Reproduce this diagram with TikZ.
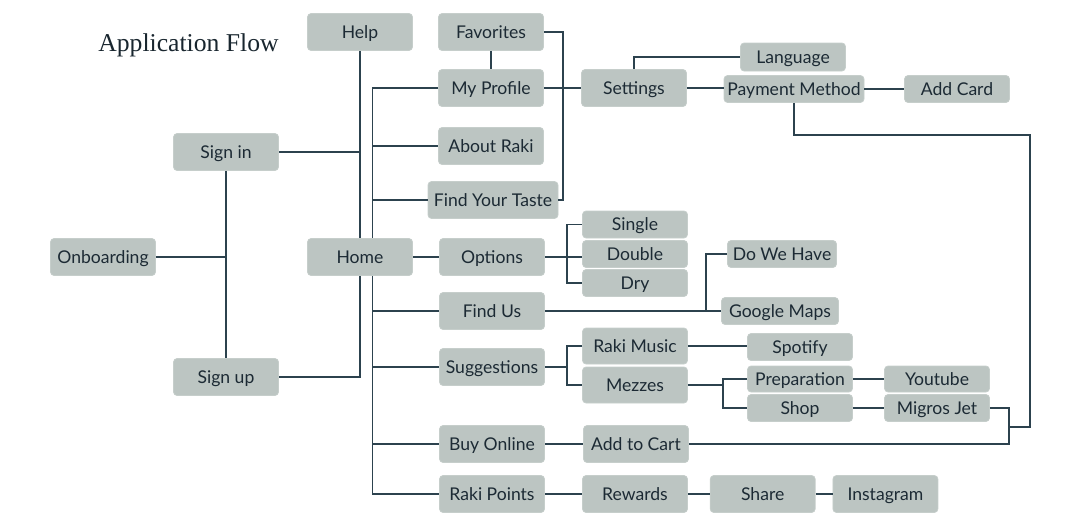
\documentclass[tikz,border=0pt]{standalone}
\usepackage{fontspec}
\setmainfont{Lato}
\newfontfamily\titlefont{Liberation Serif}
\usetikzlibrary{positioning, calc}
\definecolor{boxfill}{RGB}{188, 197, 194}
\definecolor{linkline}{RGB}{44, 66, 78}
\definecolor{inktext}{RGB}{28, 42, 52}

\begin{document}
\begin{tikzpicture}[
    screen/.style={
        rectangle, rounded corners=2pt,
        minimum width=2.1cm, minimum height=0.74cm,
        inner sep=1pt, align=center,
        text height=7.2pt, text depth=0pt,
        fill=boxfill, draw=boxfill!85!white, line width=0.4pt,
        text=inktext, font=\fontsize{10}{12}\selectfont
    },
    subscreen/.style={
        screen, minimum height=0.54cm
    },
    link/.style={
        draw=linkline, line width=0.7pt
    }
]
\useasboundingbox (0,0) rectangle (21.5,-10.5);

% Title
\node[anchor=base west, inner sep=0pt, text=inktext!90!black, font=\titlefont\fontsize{14.6}{17}\selectfont] (title) at (1.96, -1.02) {Application Flow};

% Entry
\node[screen] (onboard) at (2.06, -5.14) {Onboarding};
\node[screen] (signin) at (4.52, -3.04) {Sign in};
\node[screen] (signup) at (4.52, -7.54) {Sign up};
\node[screen] (help) at (7.2, -0.64) {Help};
\node[screen] (home) at (7.2, -5.14) {Home};

% Home menu
\node[screen] (fav) at (9.82, -0.64) {Favorites};
\node[screen] (profile) at (9.82, -1.76) {My Profile};
\node[screen] (about) at (9.82, -2.92) {About Raki};
\node[screen, minimum width=2.6cm] (taste) at (9.86, -4.0) {Find Your Taste};
\node[screen] (options) at (9.84, -5.14) {Options};
\node[screen] (findus) at (9.84, -6.22) {Find Us};
\node[screen] (suggest) at (9.84, -7.34) {Suggestions};
\node[screen] (buy) at (9.84, -8.88) {Buy Online};
\node[screen] (points) at (9.84, -9.88) {Raki Points};

% Profile branch
\node[screen] (settings) at (12.68, -1.76) {Settings};
\node[subscreen, minimum height=0.56cm] (language) at (15.86, -1.14) {Language};
\node[subscreen, minimum width=2.8cm] (payment) at (15.88, -1.78) {Payment Method};
\node[subscreen] (addcard) at (19.14, -1.78) {Add Card};

% Options branch
\node[subscreen] (single) at (12.7, -4.49) {Single};
\node[subscreen] (double) at (12.7, -5.08) {Double};
\node[subscreen] (dry) at (12.7, -5.66) {Dry};

% Find us branch
\node[subscreen, minimum width=2.18cm] (dowehave) at (15.64, -5.08) {Do We Have};
\node[subscreen, minimum width=2.34cm] (gmaps) at (15.6, -6.22) {Google Maps};

% Suggestions branch
\node[screen, minimum height=0.72cm] (music) at (12.7, -6.92) {Raki Music};
\node[screen, minimum height=0.72cm] (mezzes) at (12.7, -7.7) {Mezzes};
\node[subscreen] (spotify) at (16.0, -6.94) {Spotify};
\node[subscreen, minimum height=0.52cm] (prep) at (16.0, -7.58) {Preparation};
\node[subscreen] (shop) at (16.0, -8.16) {Shop};
\node[subscreen, minimum height=0.52cm] (youtube) at (18.74, -7.58) {Youtube};
\node[subscreen] (migros) at (18.74, -8.16) {Migros Jet};

% Shop / points
\node[screen] (cart) at (12.72, -8.88) {Add to Cart};
\node[screen] (rewards) at (12.7, -9.88) {Rewards};
\node[screen, right=0.44cm of rewards] (share) {Share};
\node[screen, right=0.34cm of share] (insta) {Instagram};

% Bus lines
\coordinate (tk) at (7.45, 0);
\coordinate (favbk) at (11.26, 0);
\coordinate (optbk) at (11.34, 0);
\coordinate (mapbk) at (14.12, 0);
\coordinate (mezbk) at (14.46, 0);
\coordinate (rbus) at (20.6, -2.7);
\coordinate (mjbk) at (20.18, -8.54);

% Entry links
\draw[link] (signin) -- (signup);
\draw[link] (onboard) -- (onboard -| signin);
\draw[link] (signin.east) -- (signin -| help);
\draw[link] (help) -- (home);
\draw[link] (home.south) |- (signup.east);

% Home trunk
\draw[link] (profile.west) -| (home.north -| tk);
\draw[link] (home.south -| tk) |- (points.west);
\draw[link] (tk |- about) -- (about.west);
\draw[link] (tk |- taste) -- (taste.west);
\draw[link] (tk |- findus) -- (findus.west);
\draw[link] (tk |- suggest) -- (suggest.west);
\draw[link] (tk |- buy) -- (buy.west);
\draw[link] (home) -- (options);

% Profile
\draw[link] (fav) -- (profile);
\draw[link] (fav.east) -- (fav.east -| favbk) |- (taste.east);
\draw[link] (profile) -- (settings);
\draw[link] (settings.north) |- (language.west);
\draw[link] (settings.east) -- (settings.east -| payment.west);
\draw[link] (payment) -- (addcard);
\draw[link] (payment.south) |- (rbus) |- (mjbk);

% Options
\draw[link] (options.east) -- (options.east -| double.west);
\draw[link] (single.west) -| (optbk |- dry) -- (dry.west);

% Find us
\draw[link] (findus) -- (gmaps);
\draw[link] (dowehave.west) -| (mapbk |- gmaps);

% Suggestions
\draw[link] (suggest.east) -- (suggest -| optbk);
\draw[link] (music.west) -| (optbk |- mezzes) -- (mezzes.west);
\draw[link] (music.east) -- (music.east -| spotify.west);
\draw[link] (mezzes.east) -- (mezzes -| mezbk);
\draw[link] (prep.west) -| (mezbk |- shop) -- (shop.west);
\draw[link] (prep) -- (youtube);
\draw[link] (shop) -- (migros);
\draw[link] (migros.east) -| (mjbk) |- (cart.east);

% Buy / points
\draw[link] (buy) -- (cart);
\draw[link] (points) -- (rewards);
\draw[link] (rewards) -- (share);
\draw[link] (share) -- (insta);

\end{tikzpicture}
\end{document}
